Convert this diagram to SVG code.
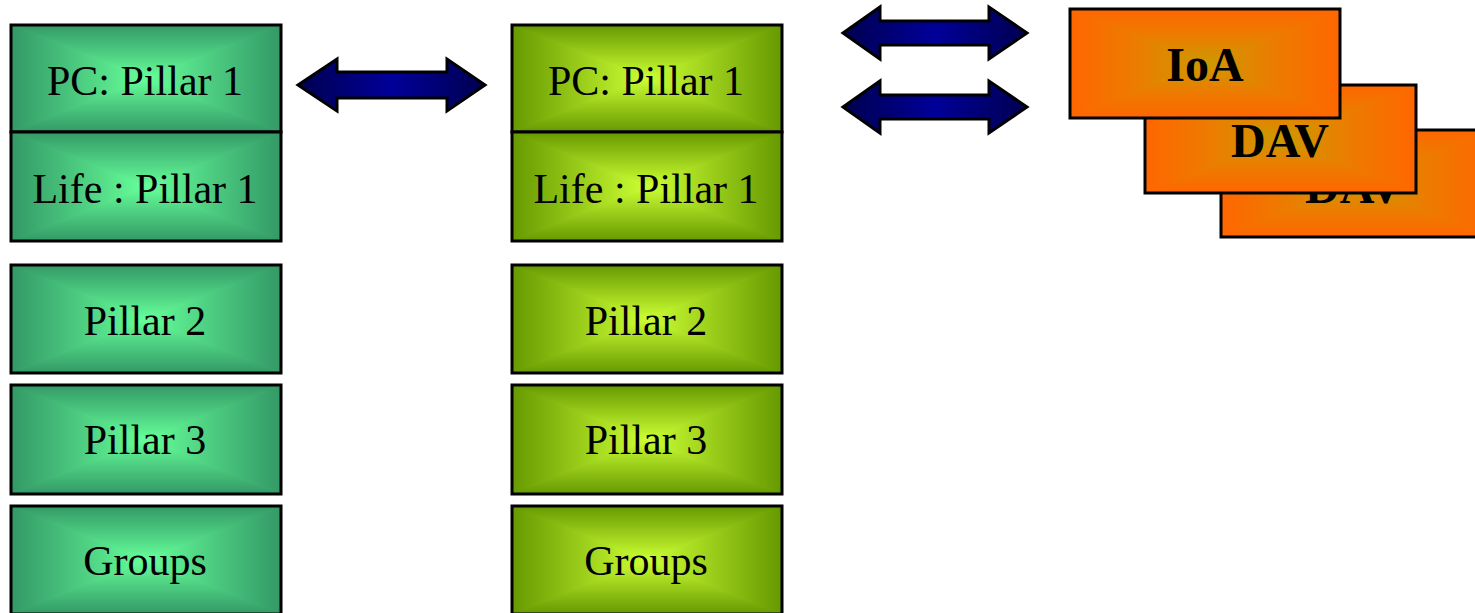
<svg xmlns="http://www.w3.org/2000/svg" width="1475" height="613" viewBox="0 0 1475 613">
<style>
.lbl{font-family:"Liberation Serif","Times New Roman",serif;font-size:42px;fill:#000;text-anchor:middle}
.blbl{font-family:"Liberation Serif","Times New Roman",serif;font-size:48px;font-weight:bold;fill:#000;text-anchor:middle}
.frame{fill:none;stroke:#000;stroke-width:3}
.arrow{fill:url(#arrowG);stroke:#000;stroke-width:3;stroke-linejoin:miter}
polygon.t{stroke-width:1.2;stroke-linejoin:round}
.gT{fill:url(#gT);stroke:url(#gT)}.gB{fill:url(#gB);stroke:url(#gB)}.gL{fill:url(#gL);stroke:url(#gL)}.gR{fill:url(#gR);stroke:url(#gR)}
.lT{fill:url(#lT);stroke:url(#lT)}.lB{fill:url(#lB);stroke:url(#lB)}.lL{fill:url(#lL);stroke:url(#lL)}.lR{fill:url(#lR);stroke:url(#lR)}
.oT{fill:url(#oT);stroke:url(#oT)}.oB{fill:url(#oB);stroke:url(#oB)}.oL{fill:url(#oL);stroke:url(#oL)}.oR{fill:url(#oR);stroke:url(#oR)}
</style>
<defs>
<linearGradient id="arrowG" x1="0" y1="0" x2="1" y2="0"><stop offset="0" stop-color="#000050"/><stop offset="0.5" stop-color="#000099"/><stop offset="1" stop-color="#000050"/></linearGradient>
<linearGradient id="gT" x1="0" y1="0" x2="0" y2="1"><stop offset="0" stop-color="#339966"/><stop offset="0.5" stop-color="#4CCB80"/><stop offset="1" stop-color="#66FF99"/></linearGradient>
<linearGradient id="gB" x1="0" y1="1" x2="0" y2="0"><stop offset="0" stop-color="#339966"/><stop offset="0.5" stop-color="#4CCB80"/><stop offset="1" stop-color="#66FF99"/></linearGradient>
<linearGradient id="gL" x1="0" y1="0" x2="1" y2="0"><stop offset="0" stop-color="#339966"/><stop offset="0.5" stop-color="#4CCB80"/><stop offset="1" stop-color="#66FF99"/></linearGradient>
<linearGradient id="gR" x1="1" y1="0" x2="0" y2="0"><stop offset="0" stop-color="#339966"/><stop offset="0.5" stop-color="#4CCB80"/><stop offset="1" stop-color="#66FF99"/></linearGradient>
<linearGradient id="lT" x1="0" y1="0" x2="0" y2="1"><stop offset="0" stop-color="#669900"/><stop offset="1" stop-color="#CCFF33"/></linearGradient>
<linearGradient id="lB" x1="0" y1="1" x2="0" y2="0"><stop offset="0" stop-color="#669900"/><stop offset="1" stop-color="#CCFF33"/></linearGradient>
<linearGradient id="lL" x1="0" y1="0" x2="1" y2="0"><stop offset="0" stop-color="#669900"/><stop offset="1" stop-color="#CCFF33"/></linearGradient>
<linearGradient id="lR" x1="1" y1="0" x2="0" y2="0"><stop offset="0" stop-color="#669900"/><stop offset="1" stop-color="#CCFF33"/></linearGradient>
<linearGradient id="oT" x1="0" y1="0" x2="0" y2="1"><stop offset="0" stop-color="#FF6600"/><stop offset="0.45" stop-color="#EE7A00"/><stop offset="1" stop-color="#CC9900"/></linearGradient>
<linearGradient id="oB" x1="0" y1="1" x2="0" y2="0"><stop offset="0" stop-color="#FF6600"/><stop offset="0.45" stop-color="#EE7A00"/><stop offset="1" stop-color="#CC9900"/></linearGradient>
<linearGradient id="oL" x1="0" y1="0" x2="1" y2="0"><stop offset="0" stop-color="#FF6600"/><stop offset="0.45" stop-color="#EE7A00"/><stop offset="1" stop-color="#CC9900"/></linearGradient>
<linearGradient id="oR" x1="1" y1="0" x2="0" y2="0"><stop offset="0" stop-color="#FF6600"/><stop offset="0.45" stop-color="#EE7A00"/><stop offset="1" stop-color="#CC9900"/></linearGradient>
</defs>
<rect width="1475" height="613" fill="#fff"/>

<g id="pc-left">
<polygon class="t gT" points="11,25 281,25 146,78.5"/><polygon class="t gB" points="11,132 281,132 146,78.5"/><polygon class="t gL" points="11,25 11,132 146,78.5"/><polygon class="t gR" points="281,25 281,132 146,78.5"/>
<rect class="frame" x="11" y="25" width="270" height="107"/>
<text class="lbl" x="145" y="95">PC: Pillar 1</text>
</g>
<g id="life-left">
<polygon class="t gT" points="11,132 281,132 146,186.5"/><polygon class="t gB" points="11,241 281,241 146,186.5"/><polygon class="t gL" points="11,132 11,241 146,186.5"/><polygon class="t gR" points="281,132 281,241 146,186.5"/>
<rect class="frame" x="11" y="132" width="270" height="109"/>
<text class="lbl" x="145" y="203">Life : Pillar 1</text>
</g>
<g id="pillar2-left">
<polygon class="t gT" points="11,265 281,265 146,319"/><polygon class="t gB" points="11,373 281,373 146,319"/><polygon class="t gL" points="11,265 11,373 146,319"/><polygon class="t gR" points="281,265 281,373 146,319"/>
<rect class="frame" x="11" y="265" width="270" height="108"/>
<text class="lbl" x="145" y="335">Pillar 2</text>
</g>
<g id="pillar3-left">
<polygon class="t gT" points="11,385 281,385 146,439.5"/><polygon class="t gB" points="11,494 281,494 146,439.5"/><polygon class="t gL" points="11,385 11,494 146,439.5"/><polygon class="t gR" points="281,385 281,494 146,439.5"/>
<rect class="frame" x="11" y="385" width="270" height="109"/>
<text class="lbl" x="145" y="454">Pillar 3</text>
</g>
<g id="groups-left">
<polygon class="t gT" points="11,506 281,506 146,560"/><polygon class="t gB" points="11,614 281,614 146,560"/><polygon class="t gL" points="11,506 11,614 146,560"/><polygon class="t gR" points="281,506 281,614 146,560"/>
<rect class="frame" x="11" y="506" width="270" height="108"/>
<text class="lbl" x="145" y="575">Groups</text>
</g>

<g id="pc-mid">
<polygon class="t lT" points="512,25 782,25 647,78.5"/><polygon class="t lB" points="512,132 782,132 647,78.5"/><polygon class="t lL" points="512,25 512,132 647,78.5"/><polygon class="t lR" points="782,25 782,132 647,78.5"/>
<rect class="frame" x="512" y="25" width="270" height="107"/>
<text class="lbl" x="646" y="95">PC: Pillar 1</text>
</g>
<g id="life-mid">
<polygon class="t lT" points="512,132 782,132 647,186.5"/><polygon class="t lB" points="512,241 782,241 647,186.5"/><polygon class="t lL" points="512,132 512,241 647,186.5"/><polygon class="t lR" points="782,132 782,241 647,186.5"/>
<rect class="frame" x="512" y="132" width="270" height="109"/>
<text class="lbl" x="646" y="203">Life : Pillar 1</text>
</g>
<g id="pillar2-mid">
<polygon class="t lT" points="512,265 782,265 647,319"/><polygon class="t lB" points="512,373 782,373 647,319"/><polygon class="t lL" points="512,265 512,373 647,319"/><polygon class="t lR" points="782,265 782,373 647,319"/>
<rect class="frame" x="512" y="265" width="270" height="108"/>
<text class="lbl" x="646" y="335">Pillar 2</text>
</g>
<g id="pillar3-mid">
<polygon class="t lT" points="512,385 782,385 647,439.5"/><polygon class="t lB" points="512,494 782,494 647,439.5"/><polygon class="t lL" points="512,385 512,494 647,439.5"/><polygon class="t lR" points="782,385 782,494 647,439.5"/>
<rect class="frame" x="512" y="385" width="270" height="109"/>
<text class="lbl" x="646" y="454">Pillar 3</text>
</g>
<g id="groups-mid">
<polygon class="t lT" points="512,506 782,506 647,560"/><polygon class="t lB" points="512,614 782,614 647,560"/><polygon class="t lL" points="512,506 512,614 647,560"/><polygon class="t lR" points="782,506 782,614 647,560"/>
<rect class="frame" x="512" y="506" width="270" height="108"/>
<text class="lbl" x="646" y="575">Groups</text>
</g>

<g id="dav-back">
<polygon class="t oT" points="1221,130 1491,130 1356,183.5"/><polygon class="t oB" points="1221,237 1491,237 1356,183.5"/><polygon class="t oL" points="1221,130 1221,237 1356,183.5"/><polygon class="t oR" points="1491,130 1491,237 1356,183.5"/>
<rect class="frame" x="1221" y="130" width="270" height="107"/>
<text class="blbl" x="1354" y="203">DAV</text>
</g>
<g id="dav-front">
<polygon class="t oT" points="1145,85 1416,85 1280.5,139"/><polygon class="t oB" points="1145,193 1416,193 1280.5,139"/><polygon class="t oL" points="1145,85 1145,193 1280.5,139"/><polygon class="t oR" points="1416,85 1416,193 1280.5,139"/>
<rect class="frame" x="1145" y="85" width="271" height="108"/>
<text class="blbl" x="1280" y="157">DAV</text>
</g>
<g id="ioa">
<polygon class="t oT" points="1070,9 1340,9 1205,63.5"/><polygon class="t oB" points="1070,118 1340,118 1205,63.5"/><polygon class="t oL" points="1070,9 1070,118 1205,63.5"/><polygon class="t oR" points="1340,9 1340,118 1205,63.5"/>
<rect class="frame" x="1070" y="9" width="270" height="109"/>
<text class="blbl" x="1205" y="81">IoA</text>
</g>

<g id="connectors">
<polygon class="arrow" points="298,85 337,59 337,72 447,72 447,59 485,85 447,111 447,98 337,98 337,111"/>
<polygon class="arrow" points="843,33 880,7 880,21 989,21 989,7 1027,33 989,59 989,45 880,45 880,59"/>
<polygon class="arrow" points="843,107 880,81 880,95 989,95 989,81 1027,107 989,133 989,119 880,119 880,133"/>
</g>
</svg>
